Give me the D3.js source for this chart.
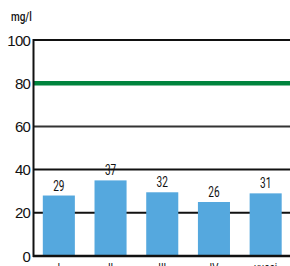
<!DOCTYPE html>
<html>
<head>
<meta charset="utf-8">
<style>
  body { margin: 0; background: #fff; }
  svg { display: block; }
</style>
</head>
<body>
<svg width="290" height="266"></svg>
<script src="https://cdn.jsdelivr.net/npm/d3@7"></script>
<script>
const categories = ["I", "II", "III", "IV", "vuosi"]
const barValues = [28, 35, 29.5, 25, 29]      // drawn bar heights
const valueLabels = ["29", "37", "32", "26", "31"]
const yTicks = [0, 20, 40, 60, 80, 100]
const limitValue = 80

const svg = d3.select("svg")

const x = d3.scaleBand().domain(categories).range([33.5, 291]).paddingInner(0.38).paddingOuter(0.18)
const y = d3.scaleLinear().domain([0, 100]).range([256, 40])

// gridlines
svg.append("g").selectAll("line").data(yTicks.filter(d => d > 0 && d !== limitValue)).join("line")
  .attr("x1", 33).attr("x2", 290)
  .attr("y1", d => y(d)).attr("y2", d => y(d))
  .attr("stroke", d => d === 60 ? "#333" : "#111").attr("stroke-width", 2)

// tick labels
svg.append("g").selectAll("text").data(yTicks).join("text")
  .attr("x", 30).attr("y", d => y(d) + 5.5)
  .attr("text-anchor", "end")
  .attr("font-family", "Liberation Sans, Arial, sans-serif")
  .attr("font-size", 15).attr("letter-spacing", -0.8)
  .attr("fill", "#111")
  .text(d => d)

// bars
svg.append("g").selectAll("rect").data(barValues).join("rect")
  .attr("x", (d, i) => x(categories[i]))
  .attr("y", d => y(d))
  .attr("width", x.bandwidth())
  .attr("height", d => y(0) - y(d))
  .attr("fill", "#55a8de")

// value labels
svg.append("g").selectAll("text").data(valueLabels).join("text")
  .attr("transform", (d, i) => `translate(${x(categories[i]) + x.bandwidth() / 2},${y(barValues[i]) - 5}) scale(0.72,1)`)
  .attr("text-anchor", "middle")
  .attr("font-family", "Roboto, sans-serif")
  .attr("font-size", 14)
  .attr("fill", "#111")
  .text(d => d)

// limit line
svg.append("line")
  .attr("x1", 33).attr("x2", 290)
  .attr("y1", y(limitValue)).attr("y2", y(limitValue))
  .attr("stroke", "#00843d").attr("stroke-width", 4.5)

// axes lines
svg.append("line").attr("x1", 33.5).attr("x2", 33.5).attr("y1", y(100) - 1).attr("y2", y(0) + 1)
  .attr("stroke", "#111").attr("stroke-width", 2)
svg.append("line").attr("x1", 33).attr("x2", 290).attr("y1", y(0)).attr("y2", y(0))
  .attr("stroke", "#111").attr("stroke-width", 2.5)

// category labels (partly cut at bottom)
svg.append("g").selectAll("text").data(categories).join("text")
  .attr("transform", d => `translate(${x(d) + x.bandwidth() / 2},${y(0) + 16}) scale(0.75,1)`)
  .attr("text-anchor", "middle")
  .attr("font-family", "Roboto, sans-serif")
  .attr("font-size", 13)
  .attr("fill", "#111")
  .text(d => d)

// unit
svg.append("text")
  .attr("transform", "translate(11,21) scale(0.8,1)")
  .attr("font-family", "Roboto, sans-serif")
  .attr("font-weight", 500)
  .attr("font-size", 12.5)
  .attr("fill", "#111")
  .text("mg/l")
</script>
</body>
</html>
